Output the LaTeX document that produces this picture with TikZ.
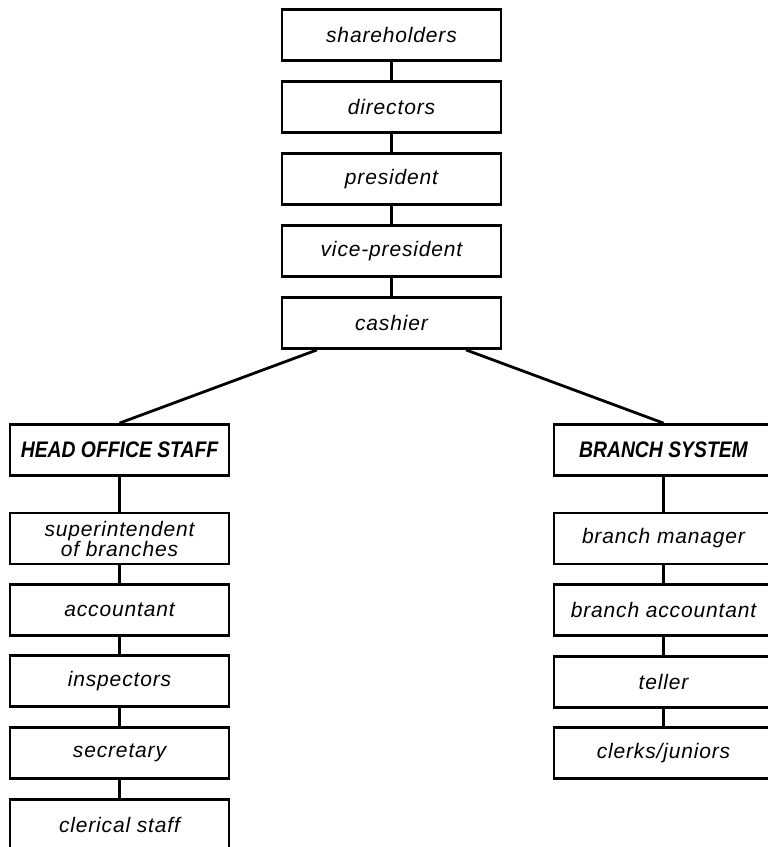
\documentclass[tikz,border=0pt]{standalone}
\usepackage{fontspec}
\setmainfont{Liberation Sans}[LetterSpace=4]
\newfontfamily\capsfont[FakeStretch=0.86]{Liberation Sans}
\usetikzlibrary{calc}
\begin{document}
\begin{tikzpicture}[x=1pt,y=-1pt,
  box/.style={draw, fill=white, line width=2.8pt, rectangle, minimum width=219pt, minimum height=51pt, inner sep=0pt, align=center, font=\fontsize{21}{20}\selectfont\itshape},
  capbox/.style={box, font=\capsfont\fontsize{22.5}{22}\selectfont\bfseries\itshape},
  link/.style={line width=2.8pt}]
\useasboundingbox (0,0) rectangle (768,847);
\clip (0,0) rectangle (768,847);
% top column
\node[box] (sh) at (391.5,35) {shareholders};
\node[box] (di) at (391.5,107) {directors};
\node[box] (pr) at (391.5,179) {president};
\node[box] (vp) at (391.5,251) {vice-president};
\node[box] (ca) at (391.5,323) {cashier};
% left column
\node[capbox] (ho) at (119.5,450) {HEAD OFFICE STAFF};
\node[box] (su) at (119.5,538.5) {superintendent\\of branches};
\node[box] (ac) at (119.5,610) {accountant};
\node[box] (in) at (119.5,681) {inspectors};
\node[box] (se) at (119.5,753) {secretary};
\node[box] (cl) at (119.5,825) {clerical staff};
% right column
\node[capbox] (bs) at (663.5,450) {BRANCH SYSTEM};
\node[box] (bm) at (663.5,538.5) {branch manager};
\node[box] (ba) at (663.5,610) {branch accountant};
\node[box] (te) at (663.5,682) {teller};
\node[box] (ck) at (663.5,753) {clerks/juniors};
% connectors
\coordinate (cal) at ($(ca.south)+(-74.5,0)$);
\coordinate (car) at ($(ca.south)+(74.5,0)$);
\draw[link] (sh.south) -- (di.north);
\draw[link] (di.south) -- (pr.north);
\draw[link] (pr.south) -- (vp.north);
\draw[link] (vp.south) -- (ca.north);
\draw[link] (cal) -- (ho.north);
\draw[link] (car) -- (bs.north);
\draw[link] (ho.south) -- (su.north);
\draw[link] (su.south) -- (ac.north);
\draw[link] (ac.south) -- (in.north);
\draw[link] (in.south) -- (se.north);
\draw[link] (se.south) -- (cl.north);
\draw[link] (bs.south) -- (bm.north);
\draw[link] (bm.south) -- (ba.north);
\draw[link] (ba.south) -- (te.north);
\draw[link] (te.south) -- (ck.north);
\end{tikzpicture}
\end{document}
